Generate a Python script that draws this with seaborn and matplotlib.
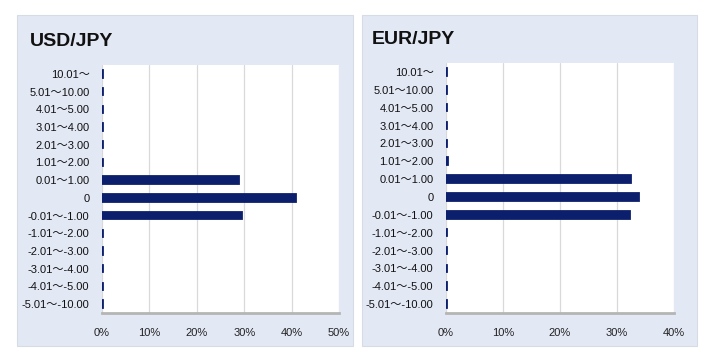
import matplotlib.pyplot as plt
import matplotlib.patches as patches
import seaborn as sns
import pandas as pd

# 変動幅カテゴリ (円)
categories = ["10.01～", "5.01～10.00", "4.01～5.00", "3.01～4.00", "2.01～3.00",
              "1.01～2.00", "0.01～1.00", "0", "-0.01～-1.00", "-1.01～-2.00",
              "-2.01～-3.00", "-3.01～-4.00", "-4.01～-5.00", "-5.01～-10.00"]
usd_jpy = [0.2, 0.2, 0.2, 0.2, 0.2, 0.3, 29.0, 40.9, 29.5, 0.2, 0.2, 0.2, 0.2, 0.2]
eur_jpy = [0.2, 0.2, 0.2, 0.2, 0.2, 0.3, 32.5, 33.9, 32.2, 0.2, 0.2, 0.2, 0.2, 0.2]
titles = ["USD/JPY", "EUR/JPY"]
x_max = [50, 40]

navy = "#0c1f6c"
panel_bg = "#e3e8f5"

sns.set_theme(style="white")
plt.rcParams['font.family'] = ['Liberation Sans', 'Noto Sans CJK JP', 'DejaVu Sans']

W, H = 714, 352
fig = plt.figure(figsize=(W / 100, H / 100), dpi=100)
fig.patch.set_facecolor("white")

def px_rect(x0, y0, x1, y1):
    return [x0 / W, 1 - y1 / H, (x1 - x0) / W, (y1 - y0) / H]

panels = [(17, 15, 353, 346), (362, 15, 697, 346)]
axes_px = [(102, 65, 339, 313), (446, 63, 674, 313)]
title_pos = [(30, 42), (372, 40)]

for i, vals in enumerate([usd_jpy, eur_jpy]):
    px0, py0, px1, py1 = panels[i]
    fig.patches.append(patches.Rectangle((px0 / W, 1 - py1 / H), (px1 - px0) / W, (py1 - py0) / H,
                                         transform=fig.transFigure, facecolor=panel_bg,
                                         edgecolor="#d6dbe6", linewidth=0.8, zorder=-5))
    tx, ty = title_pos[i]
    fig.text(tx / W, 1 - ty / H, titles[i], fontsize=14, fontweight="bold",
             va="center", ha="left", color="#111111")

    ax = fig.add_axes(px_rect(*axes_px[i]))
    ax.set_facecolor("white")
    df = pd.DataFrame({"range": categories, "pct": vals})
    sns.barplot(data=df, x="pct", y="range", orient="h", color=navy, width=0.42,
                saturation=1, edgecolor=navy, linewidth=1.3, ax=ax, zorder=3)
    ax.set_xlim(0, x_max[i])
    ticks = list(range(0, x_max[i] + 1, 10))
    ax.set_xticks(ticks)
    ax.set_xticklabels([f"{t}%" for t in ticks], fontsize=8, color="#222222")
    ax.tick_params(axis="y", labelsize=8, length=0, pad=9, labelcolor="#111111")
    ax.tick_params(axis="x", length=0, pad=11)
    ax.grid(axis="x", color="#d9d9d9", linewidth=0.9, zorder=0)
    ax.set_axisbelow(True)
    ax.set_xlabel("")
    ax.set_ylabel("")
    for s in ["top", "right", "left"]:
        ax.spines[s].set_visible(False)
    ax.spines["bottom"].set_color("#b5b5b5")
    ax.spines["bottom"].set_linewidth(2)

fig.savefig("out.png", dpi=100)
